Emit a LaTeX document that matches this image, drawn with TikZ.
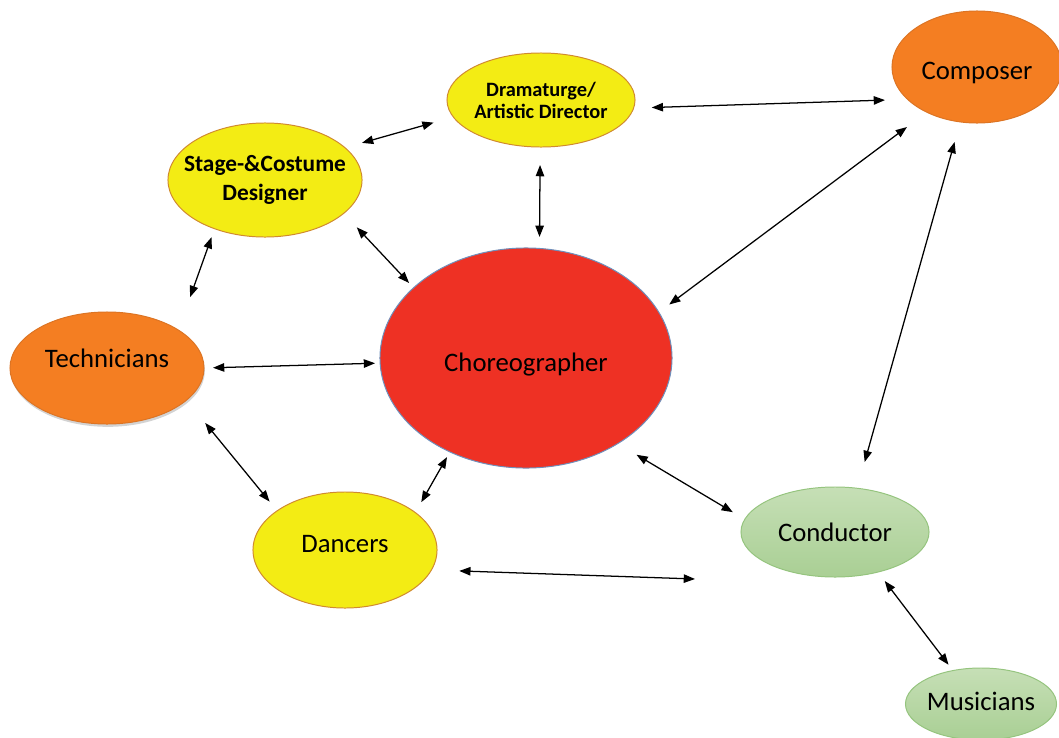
\documentclass[tikz,border=0pt]{standalone}
\usepackage{fontspec}
\setmainfont{Carlito}
\usetikzlibrary{arrows.meta,shapes.geometric,shadows}

\definecolor{roleyellow}{HTML}{F3EC14}
\definecolor{roleyellowline}{HTML}{D08A30}
\definecolor{roleorange}{HTML}{F47E22}
\definecolor{roleorangeline}{HTML}{DC7424}
\definecolor{rolered}{HTML}{EE3124}
\definecolor{roleredline}{HTML}{6F90BC}
\definecolor{rolegreentop}{HTML}{C6DFB6}
\definecolor{rolegreenbot}{HTML}{A9CF94}
\definecolor{rolegreenline}{HTML}{95C47E}

\begin{document}
\begin{tikzpicture}[x=0.025cm,y=-0.025cm,
	role/.style={ellipse,draw,line width=0.7pt,inner xsep=-1cm,inner ysep=0pt,outer sep=0pt,align=center,font=\fontsize{19}{23}\selectfont},
	yellowrole/.style={role,fill=roleyellow,draw=roleyellowline},
	orangerole/.style={role,fill=roleorange,draw=roleorangeline},
	greenrole/.style={role,top color=rolegreentop,bottom color=rolegreenbot,draw=rolegreenline},
	link/.style={{Triangle[length=8pt,width=6pt]}-{Triangle[length=8pt,width=6pt]},line width=0.9pt}]

	\useasboundingbox (0,0) rectangle (1059,737);

	% roles
	\node[yellowrole,minimum width=4.7cm,minimum height=2.35cm,font=\fontsize{14.5}{15.6}\selectfont\bfseries] (dram) at (541,100) {Dramaturge/\\Artistic Director};
	\node[yellowrole,minimum width=4.85cm,minimum height=2.85cm,font=\fontsize{16.6}{20.6}\selectfont\bfseries] (stage) at (265,180) {Stage-\&Costume\\Designer};
	\node[orangerole,minimum width=4.25cm,minimum height=2.8cm] (comp) at (977,67) {\raisebox{0pt}[21pt]{Composer}};
	\node[orangerole,minimum width=4.85cm,minimum height=2.8cm,drop shadow={shadow xshift=0.6pt,shadow yshift=-2pt,opacity=0.35}] (tech) at (107,368) {\raisebox{14pt}{Technicians}};
	\node[role,fill=rolered,draw=roleredline,minimum width=7.3cm,minimum height=5.5cm] (choreo) at (526,358) {\raisebox{0pt}[22pt]{Choreographer}};
	\node[yellowrole,minimum width=4.6cm,minimum height=2.9cm] (dance) at (345,550) {\raisebox{8pt}{Dancers}};
	\node[greenrole,minimum width=4.7cm,minimum height=2.25cm] (cond) at (835,532) {Conductor};
	\node[greenrole,minimum width=3.775cm,minimum height=1.8cm] (mus) at (981,704) {\raisebox{4pt}{Musicians}};

	\coordinate (dancecond) at ([shift={(-140,47)}]cond.center); % free end near Conductor

	% connections
	\draw[link,shorten <=12.6pt,shorten >=14.6pt] (stage.22) -- (dram.191);
	\draw[link,shorten <=12.9pt,shorten >=16.1pt] (dram.-5) -- (comp.205);
	\draw[link,shorten <=12.8pt,shorten >=8.2pt] (dram.-91) -- (choreo.83);
	\draw[link,shorten <=13.6pt,shorten >=4.7pt] (stage.-23) -- (choreo.148);
	\draw[link,shorten <=17.6pt,shorten >=9.2pt] (comp.-138) -- (choreo.19);
	\draw[link,shorten <=14.8pt,shorten >=19.4pt] (comp.-107) -- (cond.63);
	\draw[link,shorten <=6.4pt,shorten >=24.9pt] (stage.-136) -- (tech.28);
	\draw[link,shorten <=6.4pt,shorten >=3.6pt] (tech.0) -- (choreo.182);
	\draw[link,shorten <=21pt,shorten >=8.5pt] (tech.-22) -- (dance.150);
	\draw[link,shorten <=8.5pt,shorten >=4.2pt] (dance.28) -- (choreo.-129);
	\draw[link,shorten <=15.5pt,shorten >=9.9pt] (choreo.-43) -- (cond.172);
	\draw[link,shorten <=19.8pt] (dance.-13) -- (dancecond);
	\draw[link,shorten <=8pt,shorten >=5.2pt] (cond.-43) -- (mus.130);

\end{tikzpicture}
\end{document}
